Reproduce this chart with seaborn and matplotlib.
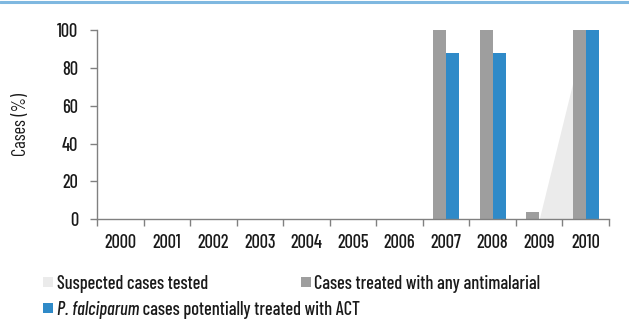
import matplotlib
matplotlib.use("Agg")
import matplotlib.pyplot as plt
import seaborn as sns
import pandas as pd
import numpy as np
from matplotlib.patches import Rectangle

years = ["2000", "2001", "2002", "2003", "2004", "2005", "2006", "2007", "2008", "2009", "2010"]
suspected_tested = [np.nan, np.nan, np.nan, np.nan, np.nan, np.nan, np.nan, np.nan, np.nan, 0, 100]
any_antimalarial = [np.nan, np.nan, np.nan, np.nan, np.nan, np.nan, np.nan, 100, 100, 4, 100]
act_treated = [np.nan, np.nan, np.nan, np.nan, np.nan, np.nan, np.nan, 88, 88, 0, 100]

lab_tested = "Suspected cases tested"
lab_any = "Cases treated with any antimalarial"
lab_act_it = "P. falciparum"
lab_act_rest = " cases potentially treated with ACT"

c_light = "#ebebeb"
c_gray = "#9e9e9e"
c_blue = "#2f8ac8"
c_text = "#1a1a1a"
c_axis = "#808080"

sns.set_style("white")
FONT = ["Barlow Condensed", "DejaVu Sans"]
plt.rcParams["font.family"] = FONT
plt.rcParams["font.weight"] = 500
FS = 13.2

df = pd.DataFrame({
    "year": years * 2,
    "value": any_antimalarial + act_treated,
    "series": [lab_any] * len(years) + [lab_act_it + lab_act_rest] * len(years),
})

W, H = 629, 320
fig = plt.figure(figsize=(W / 100, H / 100), dpi=100)
ax = fig.add_axes([97 / W, 1 - 219.3 / H, 512 / W, 189.3 / H])

xs = np.arange(len(years))
st = np.array(suspected_tested, dtype=float)
mask = ~np.isnan(st)
ax.fill_between(xs[mask], 0, st[mask], color=c_light, lw=0, zorder=0)

sns.barplot(data=df, x="year", y="value", hue="series", order=years,
            hue_order=[lab_any, lab_act_it + lab_act_rest], palette=[c_gray, c_blue],
            saturation=1, width=0.56, gap=0, ax=ax, legend=False, zorder=2, linewidth=0)

ax.set_ylim(0, 100)
ax.set_xlim(-0.5, len(years) - 0.5)
ax.set_yticks([0, 20, 40, 60, 80, 100])
ax.set_xlabel("")
ax.set_ylabel("Cases (%)", fontsize=FS, color=c_text)
ax.yaxis.label.set_va("center")
ax.yaxis.set_label_coords(-76 / 512, 0.5)

for s in ["top", "right"]:
    ax.spines[s].set_visible(False)
for s in ["left", "bottom"]:
    ax.spines[s].set_color(c_axis)
    ax.spines[s].set_linewidth(1.0)

ax.tick_params(axis="y", length=5, width=1, color=c_axis, labelsize=FS, labelcolor=c_text,
               pad=8.5, direction="out", left=True)
ax.tick_params(axis="x", length=0, labelsize=FS, labelcolor=c_text, pad=10.5)
ax.set_xticks(np.arange(-0.5, len(years), 1.0), minor=True)
ax.tick_params(axis="x", which="minor", length=5, width=1, color=c_axis, bottom=True)

fig.add_artist(plt.Line2D([0, 1], [1 - 1.5 / H, 1 - 1.5 / H], transform=fig.transFigure,
                          color="#7fb8e0", lw=2.2))

# legend (manual, so that the species name can be italic)
def swatch(x, yc, color):
    fig.add_artist(Rectangle((x / W, 1 - (yc + 5) / H), 10 / W, 10 / H,
                             transform=fig.transFigure, color=color, lw=0))

row1, row2 = 282, 308
swatch(43, row1, c_light)
fig.text(57 / W, 1 - row1 / H, lab_tested, fontsize=FS, color=c_text, va="center_baseline")
swatch(301, row1, c_gray)
fig.text(314 / W, 1 - row1 / H, lab_any, fontsize=FS, color=c_text, va="center_baseline")
swatch(43, row2, c_blue)
t_it = fig.text(57 / W, 1 - row2 / H, lab_act_it, fontsize=FS, color=c_text,
                va="center_baseline", style="italic")
r = fig.canvas.get_renderer()
bb = t_it.get_window_extent(renderer=r)
fig.text(bb.x1 / W, 1 - row2 / H, lab_act_rest, fontsize=FS, color=c_text, va="center_baseline")

fig.savefig("out.png", dpi=100)
